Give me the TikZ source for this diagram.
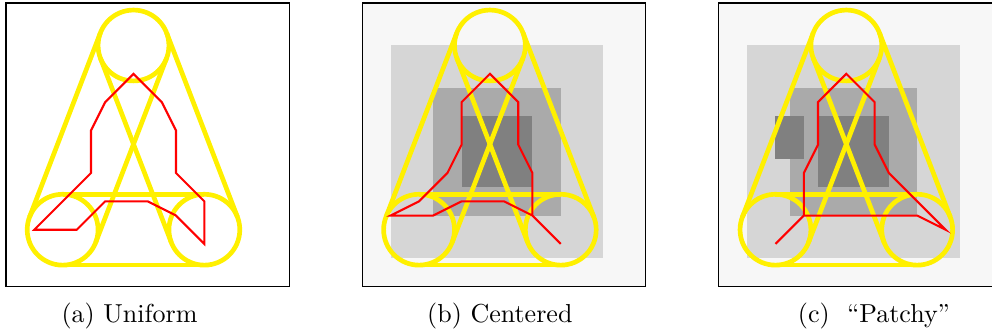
\documentclass[tikz,border=0pt]{standalone}
\usepackage{tikz}
\usetikzlibrary{calc}
\definecolor{lyell}{HTML}{FFF000}
\definecolor{bgg}{HTML}{F7F7F7}
\definecolor{gone}{HTML}{D6D6D6}
\definecolor{gtwo}{HTML}{AAAAAA}
\definecolor{gthree}{HTML}{808080}
\newcommand{\capr}{13.625pt}
\newcommand{\letterA}{%
  \coordinate (T) at (9,17);
  \coordinate (L) at (4,4);
  \coordinate (R) at (14,4);
  \foreach \c in {T,L,R} \draw[letter] (\c) circle (2.5);
  \foreach \p/\q in {T/L,L/R,R/T}{
    \draw[letter] ($(\p)!\capr!90:(\q)$) -- ($(\q)!\capr!-90:(\p)$);
    \draw[letter] ($(\p)!\capr!-90:(\q)$) -- ($(\q)!\capr!90:(\p)$);
  }%
}

\begin{document}
\begin{tikzpicture}[x=5.45pt, y=5.45pt,
  letter/.style={draw=lyell, line width=1.8pt},
  walk/.style={draw=red, line width=0.8pt},
  panel/.style={draw=black, line width=0.5pt},
  subcap/.style={anchor=base}]
  \useasboundingbox (0,-3.28) rectangle (70,20.21);
  % (a) uniform
  \begin{scope}[shift={(0.42,0)}]
    \letterA
    \draw[walk] (9,15) -- (11,13) -- (12,11) -- (12,8) -- (14,6) -- (14,3) -- (12,5) -- (10,6)
      -- (7,6) -- (5,4) -- (2,4) -- (4,6) -- (6,8) -- (6,11) -- (7,13) -- cycle;
    \draw[panel] (0,0) rectangle (20,20);
  \end{scope}
  % (b) centered
  \begin{scope}[shift={(25.57,0)}]
    \fill[bgg] (0,0) rectangle (20,20);
    \fill[gone] (2,2) rectangle (17,17);
    \fill[gtwo] (5,5) rectangle (14,14);
    \fill[gthree] (7,7) rectangle (12,12);
    \letterA
    \draw[walk] (9,15) -- (11,13) -- (11,10) -- (12,8) -- (12,5) -- (14,3) -- (12,5) -- (10,6)
      -- (7,6) -- (5,5) -- (2,5) -- (4,6) -- (6,8) -- (7,10) -- (7,13) -- cycle;
    \draw[panel] (0,0) rectangle (20,20);
  \end{scope}
  % (c) patchy
  \begin{scope}[shift={(50.72,0)}]
    \fill[bgg] (0,0) rectangle (20,20);
    \fill[gone] (2,2) rectangle (17,17);
    \fill[gtwo] (5,5) rectangle (14,14);
    \fill[gthree] (4,9) rectangle (6,12);
    \fill[gthree] (7,7) rectangle (12,12);
    \letterA
    \draw[walk] (9,15) -- (11,13) -- (11,10) -- (12,8) -- (16,4) -- (14,5) -- (6,5) -- (4,3)
      -- (6,5) -- (6,8) -- (7,10) -- (7,13) -- cycle;
    \draw[panel] (0,0) rectangle (20,20);
  \end{scope}
  % captions
  \node[subcap] (capa) at (9.14,-2.56) {(a)~Uniform};
  \node[subcap] (capb) at (35.27,-2.56) {(b)~Centered};
  \node[subcap] (capc) at (61.67,-2.56) {(c)~~``Patchy''};
\end{tikzpicture}
\end{document}
